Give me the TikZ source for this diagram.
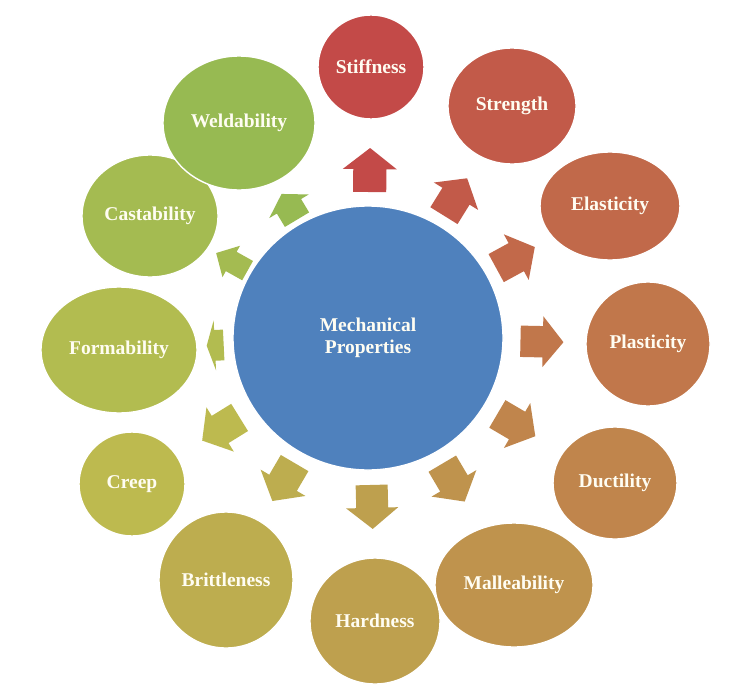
\documentclass[tikz,border=0pt]{standalone}
\usepackage{fontspec}
\setmainfont{Liberation Serif}
\usetikzlibrary{shapes.geometric,calc}
\definecolor{centerblue}{HTML}{4F81BD}
\definecolor{labeltext}{RGB}{255,253,242}
\tikzset{
  bubble/.style={ellipse, draw=white, line width=1.4pt, inner sep=0pt,
    text=labeltext, font=\fontsize{19.5}{22}\selectfont\bfseries, align=center},
}
\begin{document}
\begin{tikzpicture}[x=1pt,y=-1pt]
\useasboundingbox[fill=white] (0,0) rectangle (746,693);
\node[bubble, fill=centerblue, minimum width=270pt, minimum height=264pt] (M) at (368,338) {Mechanical\\Properties};
\foreach \i/\nm/\cx/\cy/\rx/\ry/\lab/\d/\L/\W in {
  0/stiff/371/67/53/52/Stiffness/168/44/54,
  1/stren/512/106/64/58/Strength/166/44/52,
  2/elast/610/206/70/54/Elasticity/168/44/52,
  3/plast/648/344/62/62/Plasticity/174/43/51,
  4/duct/615/483/62/56/Ductility/172/44/52,
  5/mall/514/585/79/62/Malleability/168/44/52,
  6/hard/375/621/65/63/Hardness/169/44/52,
  7/britt/226/580/67/68/Brittleness/167/44/52,
  8/creep/132/484/53/52/Creep/173/44/52,
  9/form/119/350/78/63/Formability/153/17/50,
  10/cast/150/216/68/61/Castability/156/36/36,
  11/weld/239/123/76/67/Weldability/153/30/46}{
  \pgfmathsetmacro\hue{1+79*\i/11}
  \pgfmathsetmacro\sat{0.63-0.07*\i/11}
  \pgfmathsetmacro\bri{0.765-0.035*\i/11}
  \pgfmathsetmacro\chroma{\bri*\sat}
  \pgfmathsetmacro\xx{\chroma*(1-abs(mod(\hue/60,2)-1))}
  \pgfmathsetmacro\mm{\bri-\chroma}
  \pgfmathsetmacro\rr{(\hue<60 ? \chroma : \xx)+\mm}
  \pgfmathsetmacro\gg{(\hue<60 ? \xx : \chroma)+\mm}
  \definecolor{itemcol}{rgb}{\rr,\gg,\mm}
  \node[bubble, fill=itemcol, minimum width=2*\rx pt, minimum height=2*\ry pt] (\nm) at (\cx,\cy) {\lab};
  \coordinate (A\i) at ($(M.center)!\d pt!(\nm.center)$);
  \pgfmathsetmacro\ang{atan2(338-\cy,\cx-368)}
  \pgfmathsetmacro\hl{0.48*\L}
  \pgfmathsetmacro\sw{0.615*\W}
  \begin{scope}[shift={(A\i)}, rotate=\ang]
    \fill[itemcol] (-\L/2,-\sw/2) -- (\L/2-\hl,-\sw/2) -- (\L/2-\hl,-\W/2) -- (\L/2,0)
      -- (\L/2-\hl,\W/2) -- (\L/2-\hl,\sw/2) -- (-\L/2,\sw/2) -- cycle;
  \end{scope}
}
\end{tikzpicture}
\end{document}
